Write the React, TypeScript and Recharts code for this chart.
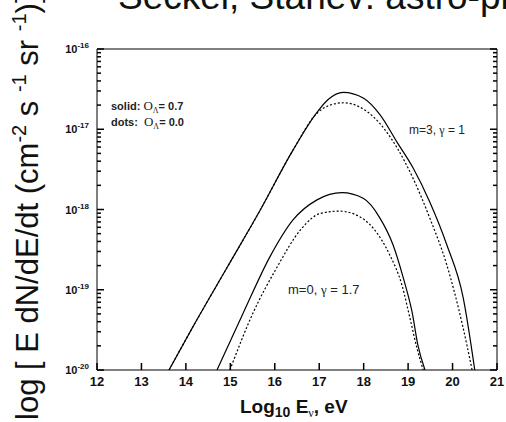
import React from 'react';
import { LineChart, XAxis, YAxis, Line } from 'recharts';

// log10 E_nu (eV) and log10 of the flux
const upperSolidE = [13.62, 14.16, 14.93, 15.67, 16.41, 16.95, 17.2, 17.54, 17.99, 18.37, 18.75, 19.11, 19.49, 19.87, 20.24, 20.5];
const upperSolidY = [-20.0, -19.46, -18.72, -18.01, -17.26, -16.79, -16.63, -16.54, -16.61, -16.82, -17.16, -17.48, -17.91, -18.44, -19.1, -20.0];

const upperDotsE = [13.62, 14.16, 14.93, 15.67, 16.41, 16.95, 17.24, 17.55, 17.9, 18.21, 18.75, 19.11, 19.49, 19.87, 20.24, 20.44];
const upperDotsY = [-20.0, -19.46, -18.72, -18.01, -17.26, -16.8, -16.7, -16.67, -16.72, -16.84, -17.23, -17.61, -18.11, -18.69, -19.48, -20.0];

const lowerSolidE = [14.7, 15.29, 15.89, 16.41, 16.95, 17.51, 17.99, 18.37, 18.66, 18.89, 19.09, 19.22, 19.38];
const lowerSolidY = [-20.0, -19.29, -18.59, -18.13, -17.88, -17.79, -17.86, -18.11, -18.44, -18.85, -19.28, -19.69, -20.0];

const lowerDotsE = [14.99, 15.51, 16.05, 16.57, 17.02, 17.45, 17.8, 18.21, 18.59, 18.86, 19.04, 19.2, 19.34];
const lowerDotsY = [-20.0, -19.29, -18.72, -18.26, -18.05, -18.02, -18.06, -18.23, -18.57, -18.94, -19.35, -19.73, -20.0];

const xTicks = [12, 13, 14, 15, 16, 17, 18, 19, 20, 21];
const decades = [-20, -19, -18, -17, -16];

const yTicks: number[] = [];
decades.forEach(d => {
  yTicks.push(d);
  if (d < -16) for (let k = 2; k <= 9; k++) yTicks.push(d + Math.log10(k));
});

const zip = (xs: number[], ys: number[]) => xs.map((e, i) => ({ e, y: ys[i] }));

const FONT = '"Liberation Sans", Arial, sans-serif';
const SERIF = '"Liberation Serif", "Times New Roman", serif';
const TICK_W = 1.5;
const isMajor = (v: number) => Math.abs(v - Math.round(v)) < 1e-6;

const LeftTick = ({ x, y, payload }: any) => {
  const major = isMajor(payload.value);
  return (
    <g>
      <path d={`M${x},${y}h${major ? 7 : 4}`} stroke="#000" strokeWidth={TICK_W} fill="none" />
      {major && (
        <text x={x - 8} y={y + 4} textAnchor="end" fontFamily={FONT} fontWeight="bold" fontSize={11} fill="#111">
          10<tspan dy={-5} fontSize={8}>{Math.round(payload.value)}</tspan>
        </text>
      )}
    </g>
  );
};

const RightTick = ({ x, y, payload }: any) => (
  <path d={`M${x},${y}h${isMajor(payload.value) ? -7 : -4}`} stroke="#000" strokeWidth={TICK_W} fill="none" />
);

const BottomTick = ({ x, y, payload }: any) => (
  <g>
    <path d={`M${x},${y}v-7`} stroke="#000" strokeWidth={TICK_W} fill="none" />
    <text x={x} y={y + 16} textAnchor="middle" fontFamily={FONT} fontWeight="bold" fontSize={13} fill="#111">
      {payload.value}
    </text>
  </g>
);

const TopTick = ({ x, y }: any) => (
  <path d={`M${x},${y}v7`} stroke="#000" strokeWidth={TICK_W} fill="none" />
);

const App: React.FC = () => (
  <div style={{ position: 'absolute', left: 0, top: 0, background: '#fff' }}>
    <LineChart width={506} height={422} margin={{ top: 48, right: 8, bottom: 22, left: 37 }}>
      <XAxis xAxisId="b" type="number" dataKey="e" domain={[12, 21]} ticks={xTicks} height={30}
        allowDataOverflow tickLine={false} tickSize={0} tickMargin={0} tick={BottomTick} axisLine={{ stroke: '#000' }} />
      <XAxis xAxisId="t" orientation="top" type="number" domain={[12, 21]} ticks={xTicks} height={1}
        allowDataOverflow tickLine={false} tickSize={0} tickMargin={0} tick={TopTick} axisLine={{ stroke: '#000' }} />
      <YAxis yAxisId="l" type="number" domain={[-20, -16]} ticks={yTicks} width={60} interval={0}
        allowDataOverflow tickLine={false} tickSize={0} tickMargin={0} tick={LeftTick} axisLine={{ stroke: '#000' }} />
      <YAxis yAxisId="r" orientation="right" type="number" domain={[-20, -16]} ticks={yTicks} width={1} interval={0}
        allowDataOverflow tickLine={false} tickSize={0} tickMargin={0} tick={RightTick} axisLine={{ stroke: '#000' }} />

      <Line xAxisId="b" yAxisId="l" data={zip(upperSolidE, upperSolidY)} dataKey="y" type="monotone"
        stroke="#000" strokeWidth={1.2} dot={false} isAnimationActive={false} />
      <Line xAxisId="b" yAxisId="l" data={zip(upperDotsE, upperDotsY)} dataKey="y" type="monotone"
        stroke="#000" strokeWidth={1.2} strokeDasharray="2 2" dot={false} isAnimationActive={false} />
      <Line xAxisId="b" yAxisId="l" data={zip(lowerSolidE, lowerSolidY)} dataKey="y" type="monotone"
        stroke="#000" strokeWidth={1.2} dot={false} isAnimationActive={false} />
      <Line xAxisId="b" yAxisId="l" data={zip(lowerDotsE, lowerDotsY)} dataKey="y" type="monotone"
        stroke="#000" strokeWidth={1.2} strokeDasharray="2 2" dot={false} isAnimationActive={false} />

      {/* title, clipped by the top of the page */}
      <text x={118} y={9} fontFamily={FONT} fontSize={37} fill="#111">Seckel, Stanev: astro-ph</text>

      {/* y axis title */}
      <text transform="translate(38,420) rotate(-90)" fontFamily={FONT} fontSize={31} fill="#111">
        log [ E dN/dE/dt (cm<tspan dy={-12} fontSize={20}>-2</tspan>
        <tspan dy={12}> s </tspan><tspan dy={-12} fontSize={20}>-1</tspan>
        <tspan dy={12}> sr </tspan><tspan dy={-12} fontSize={20}>-1</tspan>
        <tspan dy={12}>)]</tspan>
      </text>

      {/* x axis title */}
      <text x={240} y={413} fontFamily={FONT} fontWeight="bold" fontSize={19} fill="#111">
        Log<tspan dy={4} fontSize={14}>10</tspan><tspan dy={-4}> E</tspan>
        <tspan dy={4} fontSize={12} fontWeight="normal" fontFamily={SERIF}>ν</tspan>
        <tspan dy={-4}>, eV</tspan>
      </text>

      {/* annotations */}
      <text x={111} y={110} fontFamily={FONT} fontWeight="bold" fontSize={11} fill="#222">
        solid: <tspan fontFamily={SERIF} fontWeight="normal" fontSize={13}>O</tspan>
        <tspan dy={3} fontFamily={SERIF} fontWeight="normal" fontSize={8}>Λ</tspan>
        <tspan dy={-3}>= 0.7</tspan>
      </text>
      <text x={111} y={126} fontFamily={FONT} fontWeight="bold" fontSize={11} fill="#222">
        dots: <tspan dx={3} fontFamily={SERIF} fontWeight="normal" fontSize={13}>O</tspan>
        <tspan dy={3} fontFamily={SERIF} fontWeight="normal" fontSize={8}>Λ</tspan>
        <tspan dy={-3}>= 0.0</tspan>
      </text>
      <text x={409} y={134} fontFamily={FONT} fontSize={12} fill="#222">
        m=3, <tspan fontFamily={SERIF}>γ</tspan> = 1
      </text>
      <text x={288} y={294} fontFamily={FONT} fontSize={13} fill="#222">
        m=0, <tspan fontFamily={SERIF}>γ</tspan> = 1.7
      </text>
    </LineChart>
  </div>
);

export default App;
